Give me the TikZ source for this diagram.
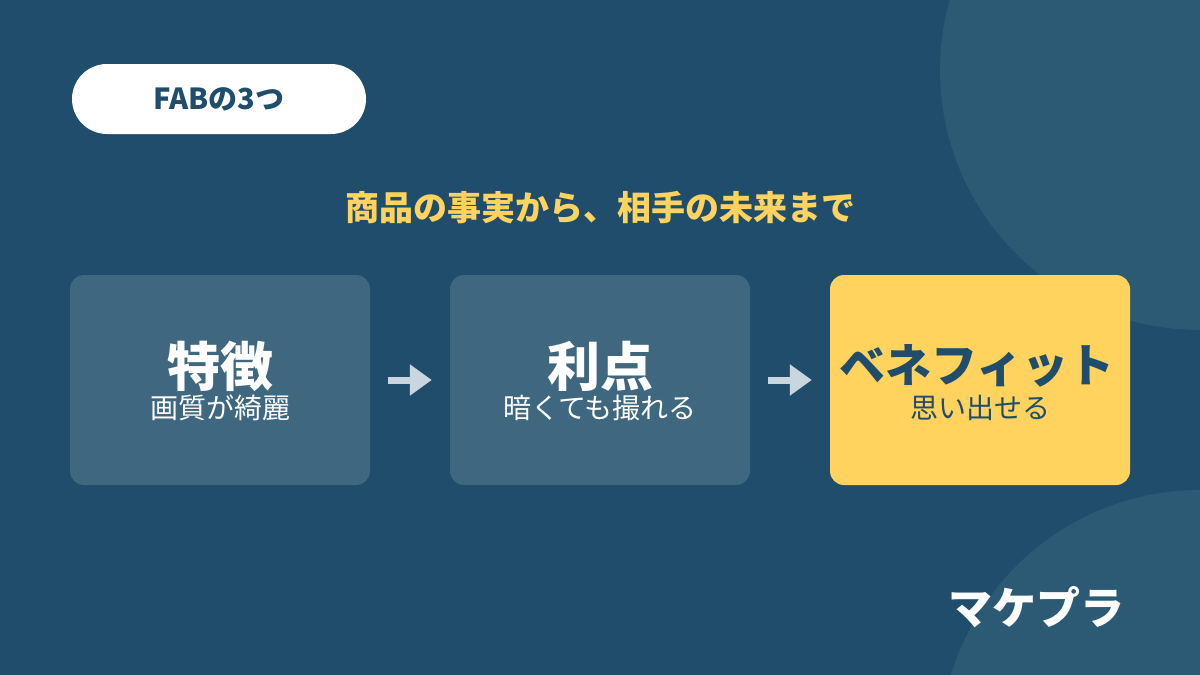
\documentclass[tikz,border=0pt]{standalone}
\usepackage{fontspec}
\setmainfont{Noto Sans CJK JP}
\usetikzlibrary{arrows.meta}
\definecolor{bgc}{HTML}{1F4D6B}
\definecolor{circc}{HTML}{2C5A74}
\definecolor{boxc}{HTML}{3F6780}
\definecolor{yel}{HTML}{FFD35E}
\definecolor{arrc}{HTML}{C9D6E0}
\tikzset{
  card/.style={minimum width=300pt, minimum height=210pt, rounded corners=14pt, inner sep=0pt},
  maintxt/.style={font=\fontsize{53}{53}\selectfont\bfseries, inner sep=0pt},
  subtxt/.style={font=\fontsize{28}{28}\selectfont, inner sep=0pt},
  flow/.style={arrc, line width=7pt, -{Triangle[length=22pt,width=30pt]}, shorten <=18pt, shorten >=18pt}
}
\begin{document}
\begin{tikzpicture}[x=1pt,y=-1pt]
\useasboundingbox (0,0) rectangle (1200,675);
\fill[bgc] (0,0) rectangle (1200,675);
\begin{scope}
\clip (0,0) rectangle (1200,675);
\fill[circc] (1200,70) circle (260);
\fill[circc] (1200,750) circle (260);
\end{scope}
% pill
\node[fill=white, rounded corners=35pt, minimum width=294pt, minimum height=70pt, inner sep=0pt] (pill) at (219,99) {};
\node[font=\fontsize{29}{29}\selectfont\bfseries, text=bgc, inner sep=0pt] (pilltxt) at (pill.center) {FABの3つ};
% subtitle
\node[font=\fontsize{34}{34}\selectfont\bfseries, text=yel, inner sep=0pt] (sub) at (600,208) {商品の事実から、相手の未来まで};
% cards
\node[card, fill=boxc] (b1) at (220,380) {};
\node[card, fill=boxc] (b2) at (600,380) {};
\node[card, fill=yel] (b3) at (980,380) {};
\node[maintxt, text=white] (m1) at (220,366) {特徴};
\node[subtxt, text=white] (s1) at (220,408) {画質が綺麗};
\node[maintxt, text=white] (m2) at (600,366) {利点};
\node[subtxt, text=white] (s2) at (600,408) {暗くても撮れる};
\node[maintxt, text=bgc, font=\fontsize{46}{46}\selectfont\bfseries] (m3) at (977,366) {ベネフィット};
\node[subtxt, text=bgc] (s3) at (980,408) {思い出せる};
% arrows
\draw[flow] (b1.east) -- (b2.west);
\draw[flow] (b2.east) -- (b3.west);
% brand
\node[font=\fontsize{44}{44}\selectfont\bfseries, text=white, inner sep=0pt] (brand) at (1036,607) {マケプラ};
\end{tikzpicture}
\end{document}
